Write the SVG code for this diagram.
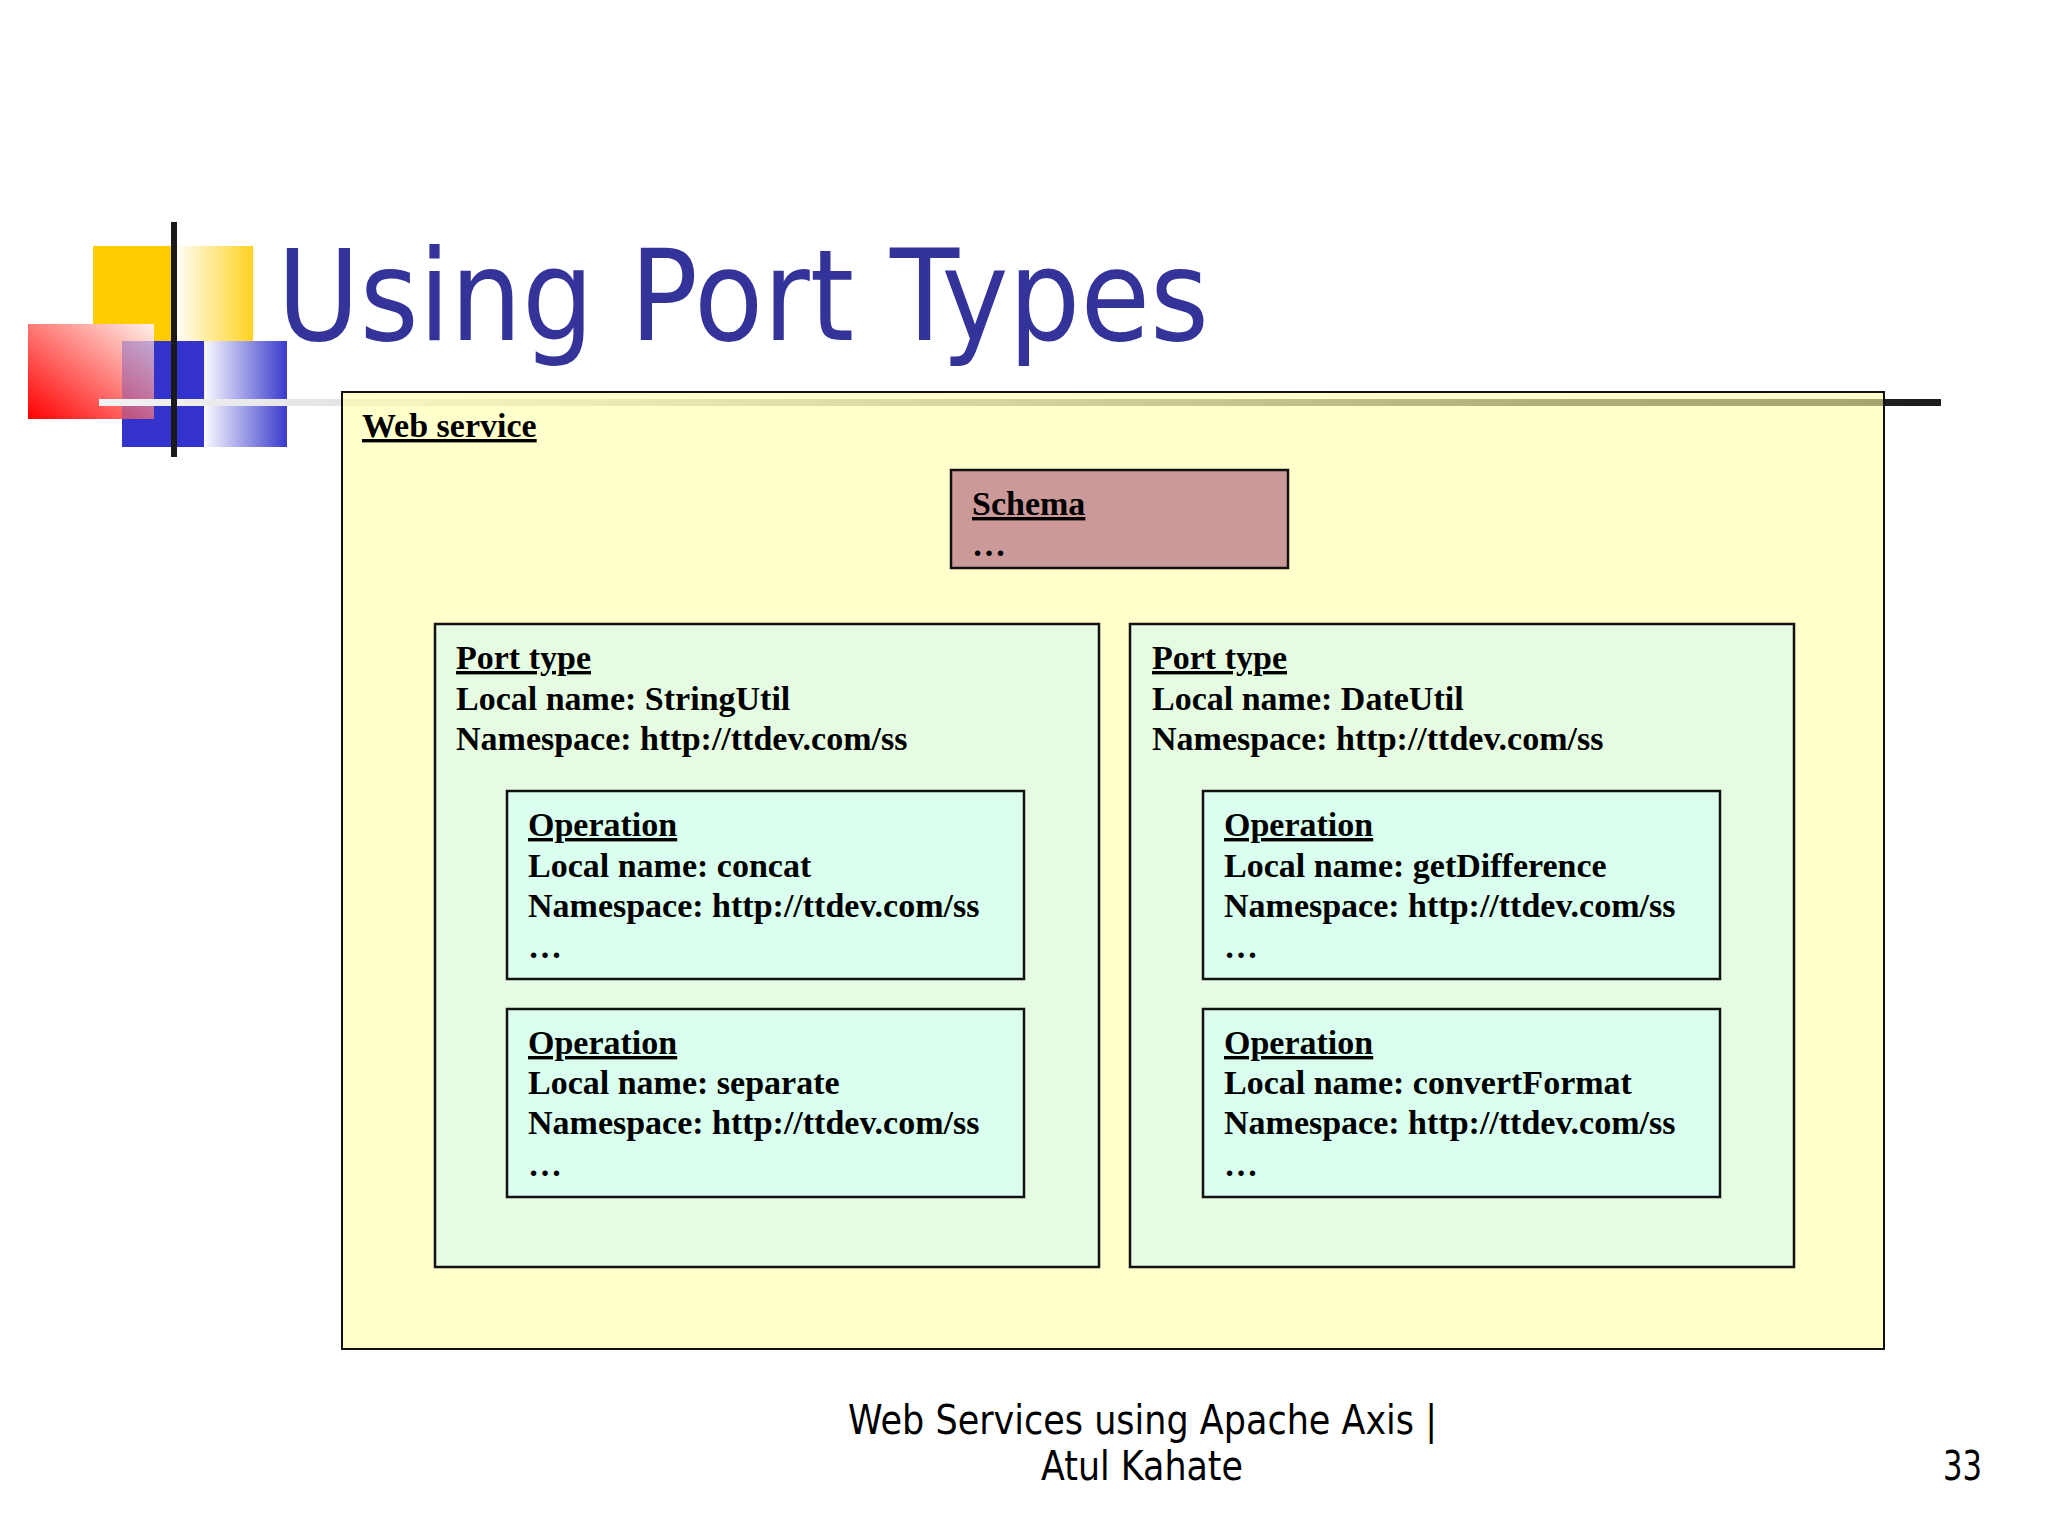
<svg xmlns="http://www.w3.org/2000/svg" width="2048" height="1536" viewBox="0 0 2048 1536">
  <defs>
    <linearGradient id="gYellow" x1="0" y1="0" x2="1" y2="0">
      <stop offset="0" stop-color="#ffffff"/>
      <stop offset="1" stop-color="#ffd21e"/>
    </linearGradient>
    <linearGradient id="gBlue" x1="0" y1="0" x2="1" y2="0">
      <stop offset="0" stop-color="#f8f8ff"/>
      <stop offset="1" stop-color="#3a3acc"/>
    </linearGradient>
    <linearGradient id="gRed" x1="0" y1="1" x2="1" y2="0">
      <stop offset="0" stop-color="#ff0000"/>
      <stop offset="1" stop-color="#fff2ea"/>
    </linearGradient>
    <linearGradient id="gLine" gradientUnits="userSpaceOnUse" x1="99" y1="0" x2="1941" y2="0">
      <stop offset="0" stop-color="#f2f2f2"/>
      <stop offset="0.2" stop-color="#dddddd"/>
      <stop offset="0.5" stop-color="#929292"/>
      <stop offset="0.8" stop-color="#343434"/>
      <stop offset="1" stop-color="#1c1c1c"/>
    </linearGradient>
    <style>
      .box { stroke: #111111; stroke-width: 2.5; }
      .ws { fill: #ffffaa; fill-opacity: 0.6; stroke: #111111; stroke-width: 2; }
      .schema { fill: #cc9999; }
      .port { fill: #e6fce2; }
      .op { fill: #daffee; }
      .t { font-family: "Liberation Serif", "Times New Roman", serif; font-weight: bold; font-size: 34px; fill: #000000; }
      .u { text-decoration: underline; }
      .title { font-family: "DejaVu Sans", Tahoma, Verdana, sans-serif; font-size: 126px; fill: #333399; }
      .foot { font-family: "DejaVu Sans", Tahoma, Verdana, sans-serif; font-size: 40px; fill: #000000; }
    </style>
  </defs>

  <rect x="0" y="0" width="2048" height="1536" fill="#ffffff"/>

  <g id="logo">
    <rect x="93" y="246" width="81" height="159" fill="#ffcc00"/>
    <rect x="174" y="246" width="79" height="159" fill="url(#gYellow)"/>
    <rect x="122" y="341" width="82" height="106" fill="#3333cc"/>
    <rect x="205" y="341" width="82" height="106" fill="url(#gBlue)"/>
    <rect x="28" y="324" width="126" height="95" fill="url(#gRed)"/>
    <rect x="122" y="341" width="32" height="78" fill="#3333cc" opacity="0.3"/>
  </g>

  <g id="web-service">
    <rect x="99" y="399" width="1842" height="7" fill="url(#gLine)"/>
    <rect class="ws" x="342" y="392" width="1542" height="957"/>
    <text class="t u" x="362" y="437">Web service</text>
  </g>

  <g id="logo-bar">
    <rect x="171" y="222" width="6" height="235" fill="#1a1a1a"/>
  </g>

  <g id="title">
    <text class="title" x="277" y="340" textLength="932" lengthAdjust="spacingAndGlyphs">Using Port Types</text>
  </g>

  <g id="schema">
    <rect class="box schema" x="951" y="470" width="337" height="98"/>
    <text class="t u" x="972" y="515">Schema</text>
    <text class="t" x="972" y="556">…</text>
  </g>

  <g id="porttype-stringutil">
    <rect class="box port" x="435" y="624" width="664" height="643"/>
    <text class="t u" x="456" y="669">Port type</text>
    <text class="t" x="456" y="710">Local name: StringUtil</text>
    <text class="t" x="456" y="750">Namespace: http://ttdev.com/ss</text>
  </g>

  <g id="op-concat">
    <rect class="box op" x="507" y="791" width="517" height="188"/>
    <text class="t u" x="528" y="836">Operation</text>
    <text class="t" x="528" y="877">Local name: concat</text>
    <text class="t" x="528" y="917">Namespace: http://ttdev.com/ss</text>
    <text class="t" x="528" y="958">…</text>
  </g>

  <g id="op-separate">
    <rect class="box op" x="507" y="1009" width="517" height="188"/>
    <text class="t u" x="528" y="1054">Operation</text>
    <text class="t" x="528" y="1094">Local name: separate</text>
    <text class="t" x="528" y="1134">Namespace: http://ttdev.com/ss</text>
    <text class="t" x="528" y="1176">…</text>
  </g>

  <g id="porttype-dateutil">
    <rect class="box port" x="1130" y="624" width="664" height="643"/>
    <text class="t u" x="1152" y="669">Port type</text>
    <text class="t" x="1152" y="710">Local name: DateUtil</text>
    <text class="t" x="1152" y="750">Namespace: http://ttdev.com/ss</text>
  </g>

  <g id="op-getdifference">
    <rect class="box op" x="1203" y="791" width="517" height="188"/>
    <text class="t u" x="1224" y="836">Operation</text>
    <text class="t" x="1224" y="877">Local name: getDifference</text>
    <text class="t" x="1224" y="917">Namespace: http://ttdev.com/ss</text>
    <text class="t" x="1224" y="958">…</text>
  </g>

  <g id="op-convertformat">
    <rect class="box op" x="1203" y="1009" width="517" height="188"/>
    <text class="t u" x="1224" y="1054">Operation</text>
    <text class="t" x="1224" y="1094">Local name: convertFormat</text>
    <text class="t" x="1224" y="1134">Namespace: http://ttdev.com/ss</text>
    <text class="t" x="1224" y="1176">…</text>
  </g>

  <g id="connectors"/>

  <g id="footer">
    <text class="foot" x="848" y="1434" textLength="589" lengthAdjust="spacingAndGlyphs">Web Services using Apache Axis |</text>
    <text class="foot" x="1041" y="1480" textLength="202" lengthAdjust="spacingAndGlyphs">Atul Kahate</text>
    <text class="foot" x="1943" y="1480" textLength="39" lengthAdjust="spacingAndGlyphs">33</text>
  </g>
</svg>
